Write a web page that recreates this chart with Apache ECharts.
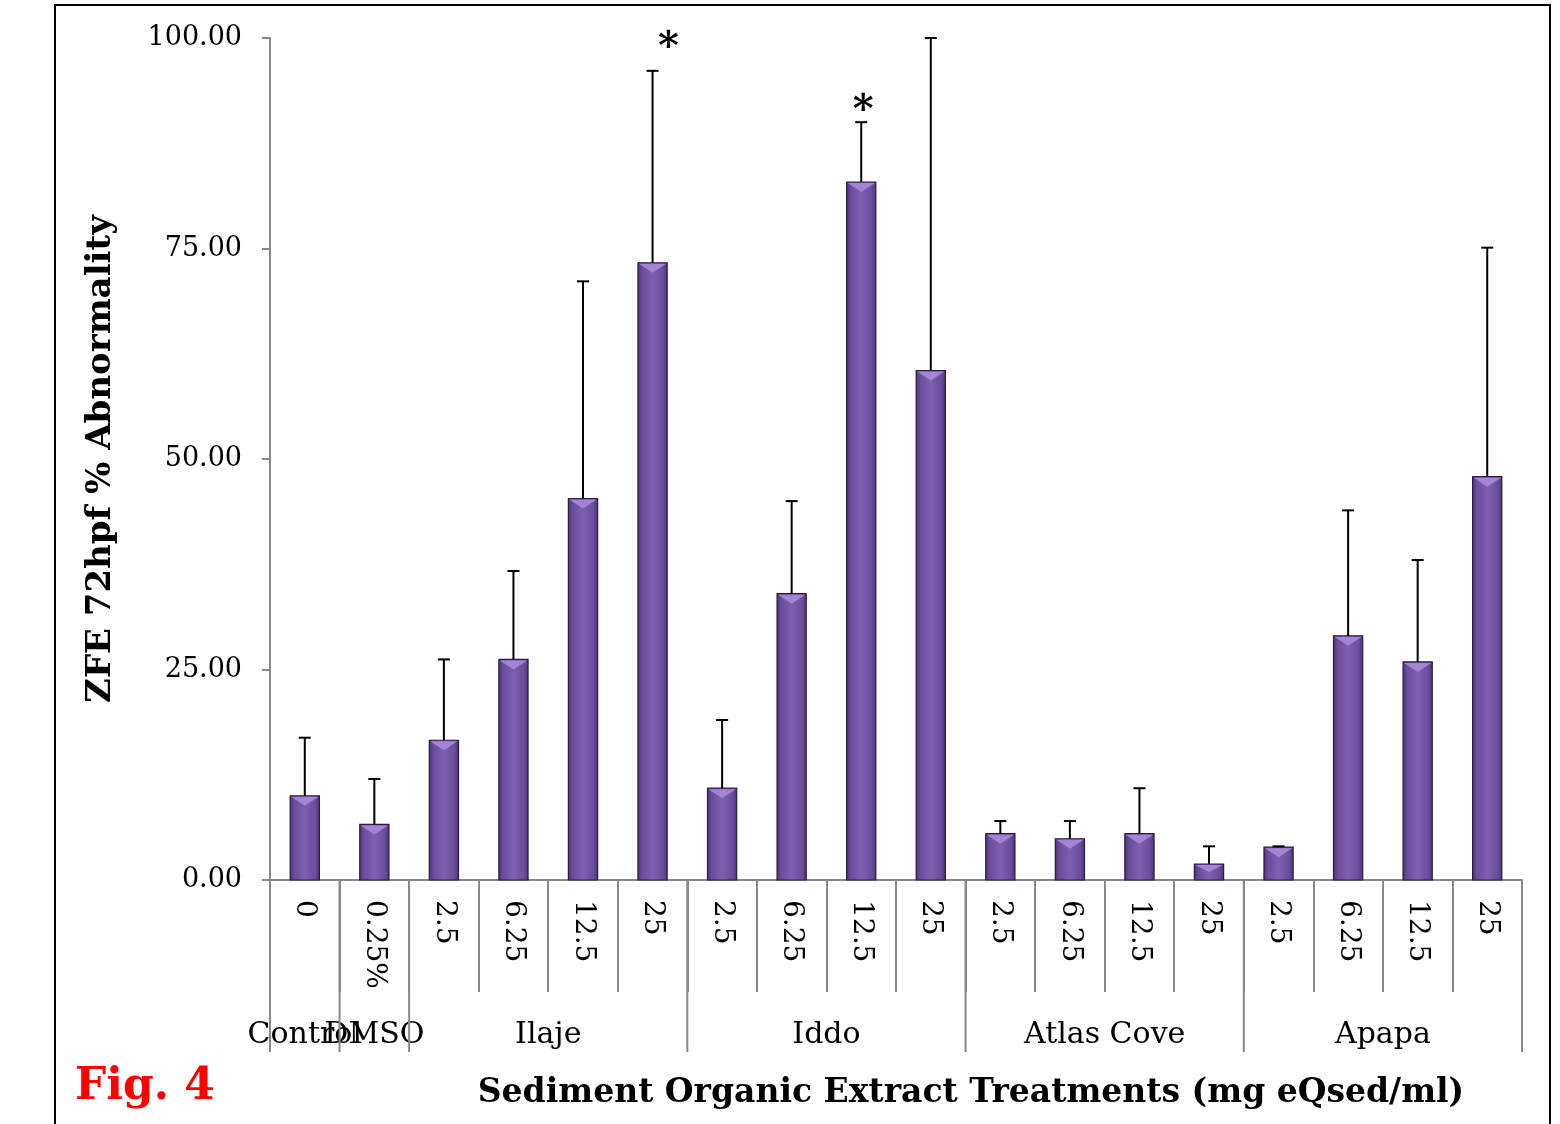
<!DOCTYPE html>
<html>
<head>
<meta charset="utf-8">
<script src="https://cdn.jsdelivr.net/npm/echarts@6/dist/echarts.min.js"></script>
<style>
html,body{margin:0;padding:0;background:#fff;}
#chart{width:1560px;height:1124px;}
</style>
</head>
<body>
<div id="chart"></div>
<script>
// ---- data ----
const categories = ['0','0.25%','2.5','6.25','12.5','25','2.5','6.25','12.5','25','2.5','6.25','12.5','25','2.5','6.25','12.5','25'];
const groups = ['Control','DMSO','Ilaje','Iddo','Atlas Cove','Apapa'];
const groupSizes = [1,1,4,4,4,4];
const means = [10.0,6.6,16.6,26.2,45.3,73.3,10.9,34.0,82.9,60.5,5.5,4.9,5.5,1.9,3.9,29.0,25.9,47.9];
const errors = [6.9,5.4,9.6,10.5,25.8,22.8,8.1,11.0,7.1,39.5,1.5,2.1,5.4,2.1,0.1,14.9,12.1,27.2];
const marks = ['','','','','','*','','','*','','','','','','','','',''];
const markLevels = [0,0,0,0,0,99.5,0,0,92.0,0,0,0,0,0,0,0,0,0];
const yTicks = [0,25,50,75,100];

const FONT = '"DejaVu Serif", serif';
const markShift = {5:16, 8:2};
const chart = echarts.init(document.getElementById('chart'), null, {renderer:'canvas'});

const barData = means.map((v,i)=>[i,v]);
const errData = means.map((v,i)=>[i,v,v+errors[i]]);
const starData = means.map((v,i)=>[i,markLevels[i]]);

function barItem(params, api){
  const x = api.value(0), v = api.value(1);
  const top = api.coord([x, v]);
  const base = api.coord([x, 0]);
  const bw = api.size([1,0])[0]*0.42;
  const l = top[0]-bw/2, w = bw, h = base[1]-top[1];
  const bev = Math.min(10, h/2);
  return {type:'group', children:[
    {type:'rect', shape:{x:l, y:top[1], width:w, height:h},
      style:{fill:new echarts.graphic.LinearGradient(0,0,1,0,[
        {offset:0,color:'#4a3270'},{offset:0.15,color:'#6a4c9c'},
        {offset:0.5,color:'#7e5fb1'},{offset:0.85,color:'#6a4c9c'},{offset:1,color:'#4a3270'}]),
        stroke:'#2a1d40', lineWidth:1.2}},
    {type:'polygon', shape:{points:[[l+1,top[1]+1],[l+w-1,top[1]+1],[l+w/2,top[1]+bev]]},
      style:{fill:'#a285d4', stroke:null}}
  ]};
}
function errItem(params, api){
  const x = api.value(0);
  const lo = api.coord([x, api.value(1)]);
  const hi = api.coord([x, api.value(2)]);
  const cap = 6;
  return {type:'group', children:[
    {type:'line', shape:{x1:lo[0],y1:lo[1],x2:hi[0],y2:hi[1]}, style:{stroke:'#000',lineWidth:2}},
    {type:'line', shape:{x1:hi[0]-cap,y1:hi[1],x2:hi[0]+cap,y2:hi[1]}, style:{stroke:'#000',lineWidth:2}}
  ]};
}
function starItem(params, api){
  const i = params.dataIndex;
  const t = marks[i];
  if(!t) return null;
  const p = api.coord([api.value(0), api.value(1)]);
  return {type:'text', x:p[0]+(markShift[i]||0), y:p[1]+6, style:{text:t, font:'bold 40px '+FONT, fill:'#000', align:'center', verticalAlign:'middle'}};
}

const option = {
  animation:false,
  backgroundColor:'#fff',
  grid:{left:270, right:38, top:38, bottom:244, containLabel:false},
  xAxis:{
    type:'category', data:categories, boundaryGap:true,
    axisLine:{show:true, lineStyle:{color:'#888', width:2}},
    axisTick:{show:true, interval:0, length:112, lineStyle:{color:'#888', width:2}},
    axisLabel:{interval:0, rotate:-90, margin:20, fontFamily:FONT, fontSize:28, color:'#000'}
  },
  yAxis:{
    type:'value', min:0, max:100, interval:25,
    name:'ZFE 72hpf % Abnormality', nameLocation:'middle', nameGap:152,
    nameTextStyle:{fontFamily:FONT, fontWeight:'bold', fontSize:34, color:'#000'},
    axisLine:{show:true, lineStyle:{color:'#888', width:2}},
    axisTick:{show:true, inside:false, length:8, lineStyle:{color:'#888', width:2}},
    splitLine:{show:false},
    axisLabel:{margin:28, padding:[6,0,0,0], fontFamily:FONT, fontSize:27, color:'#000', formatter:v=>v.toFixed(2)}
  },
  series:[
    {type:'custom', renderItem:barItem, data:barData, z:2},
    {type:'custom', renderItem:errItem, data:errData, z:3},
    {type:'custom', renderItem:starItem, data:starData, z:4}
  ]
};
chart.setOption(option);

// group brackets and labels, positioned via the axis scale
function catPx(i){ return chart.convertToPixel({xAxisIndex:0}, i); }
const half = (catPx(1)-catPx(0))/2;
const y0 = chart.convertToPixel({yAxisIndex:0}, 0);
const gfx = [];
let start = 0;
const bounds = [catPx(0)-half];
groups.forEach((g,gi)=>{
  const end = start + groupSizes[gi];
  const xl = catPx(start)-half, xr = catPx(end-1)+half;
  bounds.push(xr);
  gfx.push({type:'text', x:(xl+xr)/2, y:1035, style:{text:g, font:'30px '+FONT, fill:'#000', align:'center', verticalAlign:'middle'}});
  start = end;
});
bounds.forEach(b=>{
  gfx.push({type:'line', shape:{x1:b,y1:y0,x2:b,y2:1052}, style:{stroke:'#888', lineWidth:2}});
});
gfx.push({type:'rect', shape:{x:55,y:5,width:1495,height:1130}, style:{fill:null, stroke:'#000', lineWidth:2}, z:-1});
gfx.push({type:'text', x:971, y:1093, style:{text:'Sediment Organic Extract Treatments (mg eQsed/ml)', font:'bold 33px '+FONT, fill:'#000', align:'center', verticalAlign:'middle'}});
gfx.push({type:'text', x:75, y:1088, style:{text:'Fig. 4', font:'bold 44px '+FONT, fill:'#ff0000', align:'left', verticalAlign:'middle'}});
chart.setOption({graphic:gfx});
</script>
</body>
</html>
